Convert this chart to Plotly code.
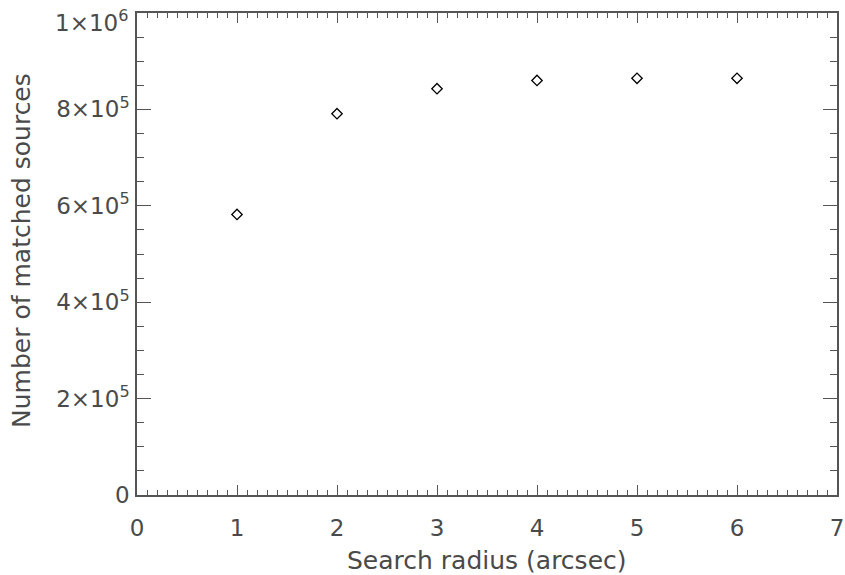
import plotly.graph_objects as go

# Cross-match counts versus search radius
radius_arcsec = [1, 2, 3, 4, 5, 6]
n_matched = [582000, 791000, 843000, 860000, 864500, 864500]

y_tickvals = [0, 200000, 400000, 600000, 800000, 1000000]
y_ticktext = ["0", "2×10<sup>5</sup>", "4×10<sup>5</sup>", "6×10<sup>5</sup>",
              "8×10<sup>5</sup>", "1×10<sup>6</sup>"]
x_tickvals = [0, 1, 2, 3, 4, 5, 6, 7]
x_ticktext = [str(v) for v in x_tickvals]

FONT = "DejaVu Sans"
TXT = "#4a4a4a"
AX = "#555555"

fig = go.Figure()
fig.add_trace(go.Scatter(
    x=radius_arcsec, y=n_matched, mode="markers",
    marker=dict(symbol="diamond-open", size=8, color="black",
                line=dict(width=1.3, color="black")),
    showlegend=False, hoverinfo="skip",
))

fig.update_layout(
    width=845, height=575,
    margin=dict(l=136.5, r=8, t=13, b=80),
    plot_bgcolor="white", paper_bgcolor="white",
    font=dict(family=FONT, size=23, color=TXT),
)
fig.update_xaxes(
    range=[0, 7], tickvals=x_tickvals, ticktext=x_ticktext,
    showgrid=False, zeroline=False, automargin=False,
    showline=True, linecolor=AX, linewidth=1.5, mirror="allticks",
    ticks="inside", ticklen=10, tickwidth=1, tickcolor=AX,
    ticklabelstandoff=12, ticklabeloverflow="allow",
    minor=dict(ticks="inside", dtick=0.1, ticklen=5, tickwidth=1,
               tickcolor=AX, showgrid=False),
)
# The top label sits just below its tick so it stays inside the page;
# it is drawn as an annotation and left blank on the axis itself.
axis_ticktext = y_ticktext[:-1] + [""]
fig.update_yaxes(
    range=[0, 1000000], tickvals=y_tickvals, ticktext=axis_ticktext,
    showgrid=False, zeroline=False, automargin=False,
    showline=True, linecolor=AX, linewidth=1.5, mirror="allticks",
    ticks="inside", ticklen=14, tickwidth=1, tickcolor=AX,
    ticklabelstandoff=1, ticklabeloverflow="allow",
    minor=dict(ticks="inside", dtick=50000, ticklen=7, tickwidth=1,
               tickcolor=AX, showgrid=False),
)
fig.add_annotation(
    text=y_ticktext[-1], xref="paper", yref="y",
    x=0, y=y_tickvals[-1], xanchor="right", yanchor="middle",
    xshift=-7, yshift=-8, showarrow=False,
    font=dict(family=FONT, size=23, color=TXT),
)

fig.add_annotation(
    text="Search radius (arcsec)", xref="paper", yref="paper",
    x=0.5, y=-0.135, xanchor="center", yanchor="middle", showarrow=False,
    font=dict(family=FONT, size=25, color=TXT),
)
fig.add_annotation(
    text="Number of matched sources", xref="paper", yref="paper",
    x=-0.166, y=0.508, xanchor="center", yanchor="middle", showarrow=False,
    textangle=-90, font=dict(family=FONT, size=25, color=TXT),
)

fig.write_html("out.html")
